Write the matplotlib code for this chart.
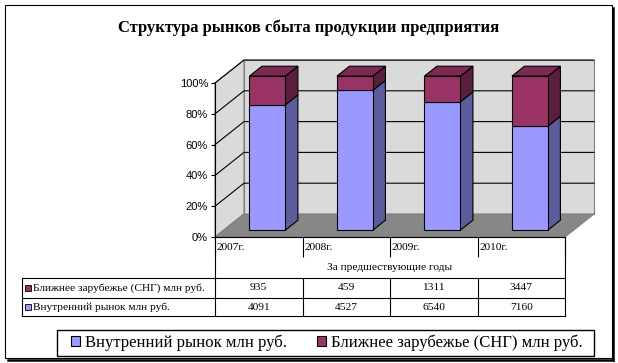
import matplotlib
matplotlib.use('Agg')
import matplotlib.pyplot as plt
from matplotlib.patches import Polygon, Rectangle, Patch
from matplotlib import transforms

# ---------------- data ----------------
years = ['2007г.', '2008г.', '2009г.', '2010г.']
domestic = [4091, 4527, 6540, 7160]
cis = [935, 459, 1311, 3447]
series_names = ['Внутренний рынок млн руб.', 'Ближнее зарубежье (СНГ) млн руб.']
table_header = 'За предшествующие годы'
title = 'Структура рынков сбыта продукции предприятия'
yticks = [0, 20, 40, 60, 80, 100]

# ---------------- style ----------------
SERIF = 'Liberation Serif'
SANS = 'Liberation Sans'
C_BLUE, C_BLUE_SIDE = '#9999ff', '#5c5c9c'
C_RED, C_RED_SIDE, C_RED_TOP = '#993366', '#5a1f3c', '#7d2a55'
C_WALL, C_FLOOR = '#dadada', '#878787'
TFS = 8.2

W, H = 618, 363
fig = plt.figure(figsize=(W / 100, H / 100), dpi=100)

# overlay axes in pixel coordinates for frame / table / legend
ov = fig.add_axes([0, 0, 1, 1])
ov.set_xlim(0, W)
ov.set_ylim(H, 0)
ov.axis('off')
ov.patch.set_alpha(0)

# main plotting axes
PXX, PXY = 87.5, 1.54   # pixels per category / per percent
X0, Y0 = 215, 237
XR, YT = 602, 55
ax = fig.add_axes([X0 / W, (H - Y0) / H, (XR - X0) / W, (Y0 - YT) / H])
ax.set_xlim(0, (XR - X0) / PXX)
ax.set_ylim(0, (Y0 - YT) / PXY)
ax.patch.set_alpha(0)

n = len(years)
DX, DY = 29 / PXX, 23 / PXY   # full depth offset in data units
z0, z1 = 0.30, 0.73            # bar depth range


def P(x, y, z):
    return (x + z * DX, y + z * DY)


# walls and floor
back = [P(0, 0, 1), P(n, 0, 1), P(n, 100, 1), P(0, 100, 1)]
left = [P(0, 0, 0), P(0, 0, 1), P(0, 100, 1), P(0, 100, 0)]
floor = [P(0, 0, 0), P(n, 0, 0), P(n, 0, 1), P(0, 0, 1)]
for poly, col in [(back, C_WALL), (left, C_WALL), (floor, C_FLOOR)]:
    ax.add_patch(Polygon(poly, closed=True, facecolor=col, edgecolor='#7f7f7f',
                         lw=0.8, zorder=1, clip_on=False))
for t in yticks[1:]:
    xs, ys = zip(P(0, t, 0), P(0, t, 1), P(n, t, 1))
    ax.plot(xs, ys, color='k', lw=0.8, zorder=2, clip_on=False)

# bars (100% stacked)
totals = [d + c for d, c in zip(domestic, cis)]
dom_pct = [d / t * 100 for d, t in zip(domestic, totals)]
cis_pct = [c / t * 100 for c, t in zip(cis, totals)]
bw = 36 / PXX
xs = [i + 0.5 + z0 * DX for i in range(n)]
base = z0 * DY
ax.bar(xs, dom_pct, bottom=base, width=bw, color=C_BLUE, edgecolor='k',
       lw=0.8, zorder=6, clip_on=False)
ax.bar(xs, cis_pct, bottom=[base + d for d in dom_pct], width=bw, color=C_RED,
       edgecolor='k', lw=0.8, zorder=6, clip_on=False)
for i in range(n):
    xl = i + 0.5 - bw / 2
    xr = i + 0.5 + bw / 2
    segs = [(0, dom_pct[i], C_BLUE_SIDE), (dom_pct[i], 100, C_RED_SIDE)]
    for y0, y1, col in segs:
        side = [P(xr, y0, z0), P(xr, y1, z0), P(xr, y1, z1), P(xr, y0, z1)]
        ax.add_patch(Polygon(side, closed=True, facecolor=col, edgecolor='k',
                             lw=0.8, zorder=5, clip_on=False))
    top = [P(xl, 100, z0), P(xr, 100, z0), P(xr, 100, z1), P(xl, 100, z1)]
    ax.add_patch(Polygon(top, closed=True, facecolor=C_RED_TOP, edgecolor='k',
                         lw=0.8, zorder=5, clip_on=False))

# axes styling
for s in ['top', 'right']:
    ax.spines[s].set_visible(False)
ax.spines['left'].set_bounds(0, 100)
ax.spines['bottom'].set_bounds(0, n)
for s in ['left', 'bottom']:
    ax.spines[s].set_linewidth(0.8)
    ax.spines[s].set_zorder(7)
ax.set_yticks(yticks)
ax.set_yticklabels([f'{t}%' for t in yticks], fontsize=8, family=SANS)
ax.tick_params(axis='y', length=3, width=0.8, pad=2)
ax.set_xticks(range(n + 1))
ax.set_xticklabels([''] * (n + 1))
ax.tick_params(axis='x', length=20 * 0.72, width=0.8, direction='out')

# ---------------- data table ----------------
bt = transforms.blended_transform_factory(ax.transData, ov.transData)
TL = 22
r_top, r_mid, r_bot = 278, 298, 316
lk = dict(color='k', lw=0.8)
for y in (r_top, r_mid, r_bot):
    ov.plot([TL, X0], [y, y], **lk)
    ov.plot([0, n], [y, y], transform=bt, **lk)
ov.plot([TL, TL], [r_top, r_bot], **lk)
ov.plot([0, 0], [Y0, r_bot], transform=bt, **lk)
ov.plot([n, n], [Y0, r_bot], transform=bt, **lk)
for k in range(1, n):
    ov.plot([k, k], [r_top, r_bot], transform=bt, **lk)
for k, yl in enumerate(years):
    ov.text(k + 2 / PXX, 247, yl, transform=bt, ha='left', va='center',
            fontsize=TFS, family=SERIF)
ov.text(n / 2, 268, table_header, transform=bt, ha='center', va='center',
        fontsize=TFS, family=SERIF)
rows = [(cis, series_names[1], C_RED, (r_top + r_mid) / 2),
        (domestic, series_names[0], C_BLUE, (r_mid + r_bot) / 2)]
for vals, name, col, yc in rows:
    ov.add_patch(Rectangle((25, yc - 3), 6, 6, facecolor=col, edgecolor='k', lw=0.6))
    ov.text(33, yc, name, ha='left', va='center', fontsize=TFS, family=SERIF)
    for k, v in enumerate(vals):
        ov.text(k + 0.5, yc, str(v), transform=bt, ha='center', va='center',
                fontsize=TFS, family=SERIF)

# ---------------- title ----------------
ov.text(309, 28, title, ha='center', va='center', fontsize=12,
        fontweight='bold', family=SERIF)

# ---------------- legend ----------------
ov.add_patch(Rectangle((56.5, 329.5), 537, 26, fill=False, edgecolor='k', lw=1.0))
handles = [Patch(facecolor=C_BLUE, edgecolor='k', lw=0.8),
           Patch(facecolor=C_RED, edgecolor='k', lw=0.8)]
leg = ov.legend(handles, series_names, loc='center', bbox_to_anchor=(327, 342.5),
                bbox_transform=ov.transData, ncol=2, frameon=False,
                prop={'family': SERIF, 'size': 12},
                handlelength=0.55, handleheight=0.55, handletextpad=0.3,
                columnspacing=1.8, borderpad=0.2, borderaxespad=0)

# ---------------- outer frame ----------------
ov.add_patch(Rectangle((4.5, 4.5), 607, 353, fill=False, edgecolor='k', lw=0.8))
ov.plot([612.5, 612.5], [8, 359.5], color='k', lw=1.8)
ov.plot([8, 612.5], [359.5, 359.5], color='k', lw=1.8)

fig.savefig('out.png', dpi=100)
